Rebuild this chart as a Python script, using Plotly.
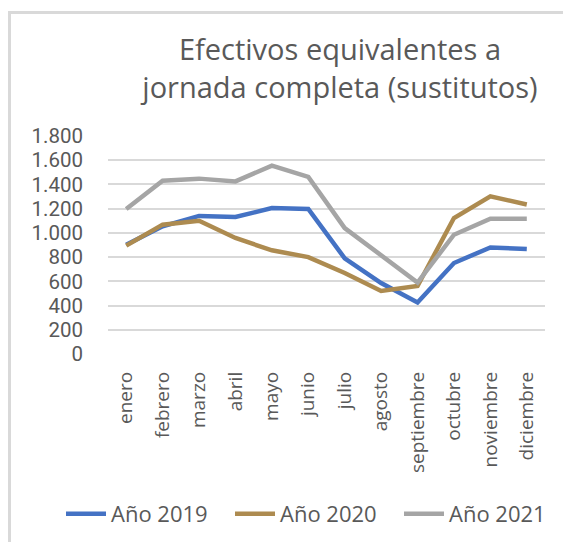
import plotly.graph_objects as go

meses = ["enero", "febrero", "marzo", "abril", "mayo", "junio", "julio",
         "agosto", "septiembre", "octubre", "noviembre", "diciembre"]
anio_2019 = [902, 1054, 1140, 1131, 1205, 1198, 790, 586, 426, 751, 880, 867]
anio_2020 = [895, 1068, 1100, 958, 856, 800, 669, 520, 562, 1123, 1302, 1235]
anio_2021 = [1197, 1431, 1448, 1425, 1555, 1462, 1040, 820, 590, 985, 1117, 1117]

series = [("Año 2019", anio_2019, "#4472C4"),
          ("Año 2020", anio_2020, "#AD8B50"),
          ("Año 2021", anio_2021, "#A5A5A5")]

FONT = "Open Sans"
OFF = 8  # page body margin
W, H = 571 - OFF, 542 - OFF
L, R, T, B = 100, 26, 128, 188
pw, ph = W - L - R, H - T - B

fig = go.Figure()
for name, vals, col in series:
    fig.add_trace(go.Scatter(x=meses, y=vals, name=name, mode="lines",
                             line=dict(color=col, width=4.5)))

def px_x(p):
    return (p - OFF - L) / pw

def px_y(p):
    return (H - B - (p - OFF)) / ph

fig.update_layout(
    template="none",
    width=W, height=H,
    margin=dict(l=L, r=R, t=T, b=B, autoexpand=False),
    paper_bgcolor="white", plot_bgcolor="white",
    separators=",.",
    font=dict(family=FONT, color="#595959", size=19),
    title=dict(text="Efectivos equivalentes a<br>jornada completa (sustitutos)",
               font=dict(family=FONT, size=29, color="#595959"),
               x=px_x(340), xref="paper", xanchor="center",
               y=1 - 52 / H, yref="container", yanchor="top"),
    xaxis=dict(range=[-0.5, 11.5], showgrid=False, showline=False,
               automargin=False,
               tickangle=-90, ticks="", ticklabelstandoff=13,
               tickfont=dict(size=19, color="#595959")),
    yaxis=dict(range=[0, 1800], dtick=200, tickformat=",d",
               showgrid=True, gridcolor="#D9D9D9", gridwidth=1.5,
               automargin=False,
               zeroline=False, showline=False, ticks="",
               ticklabelstandoff=24,
               tickfont=dict(family="Roboto", size=20.5, color="#595959")),
    showlegend=True,
    legend=dict(orientation="h", x=px_x(61), xanchor="left",
                y=px_y(514), yanchor="middle",
                font=dict(size=22, color="#595959"),
                entrywidth=114, entrywidthmode="pixels",
                itemwidth=40, tracegroupgap=0),
    shapes=[
        dict(type="line", xref="paper", yref="paper",
             x0=px_x(9.5), x1=px_x(9.5), y0=px_y(560), y1=px_y(12.5),
             line=dict(color="#D9D9D9", width=3)),
        dict(type="line", xref="paper", yref="paper",
             x0=px_x(8), x1=px_x(600), y0=px_y(12.5), y1=px_y(12.5),
             line=dict(color="#D9D9D9", width=3)),
    ],
)

fig.write_html("out.html")
